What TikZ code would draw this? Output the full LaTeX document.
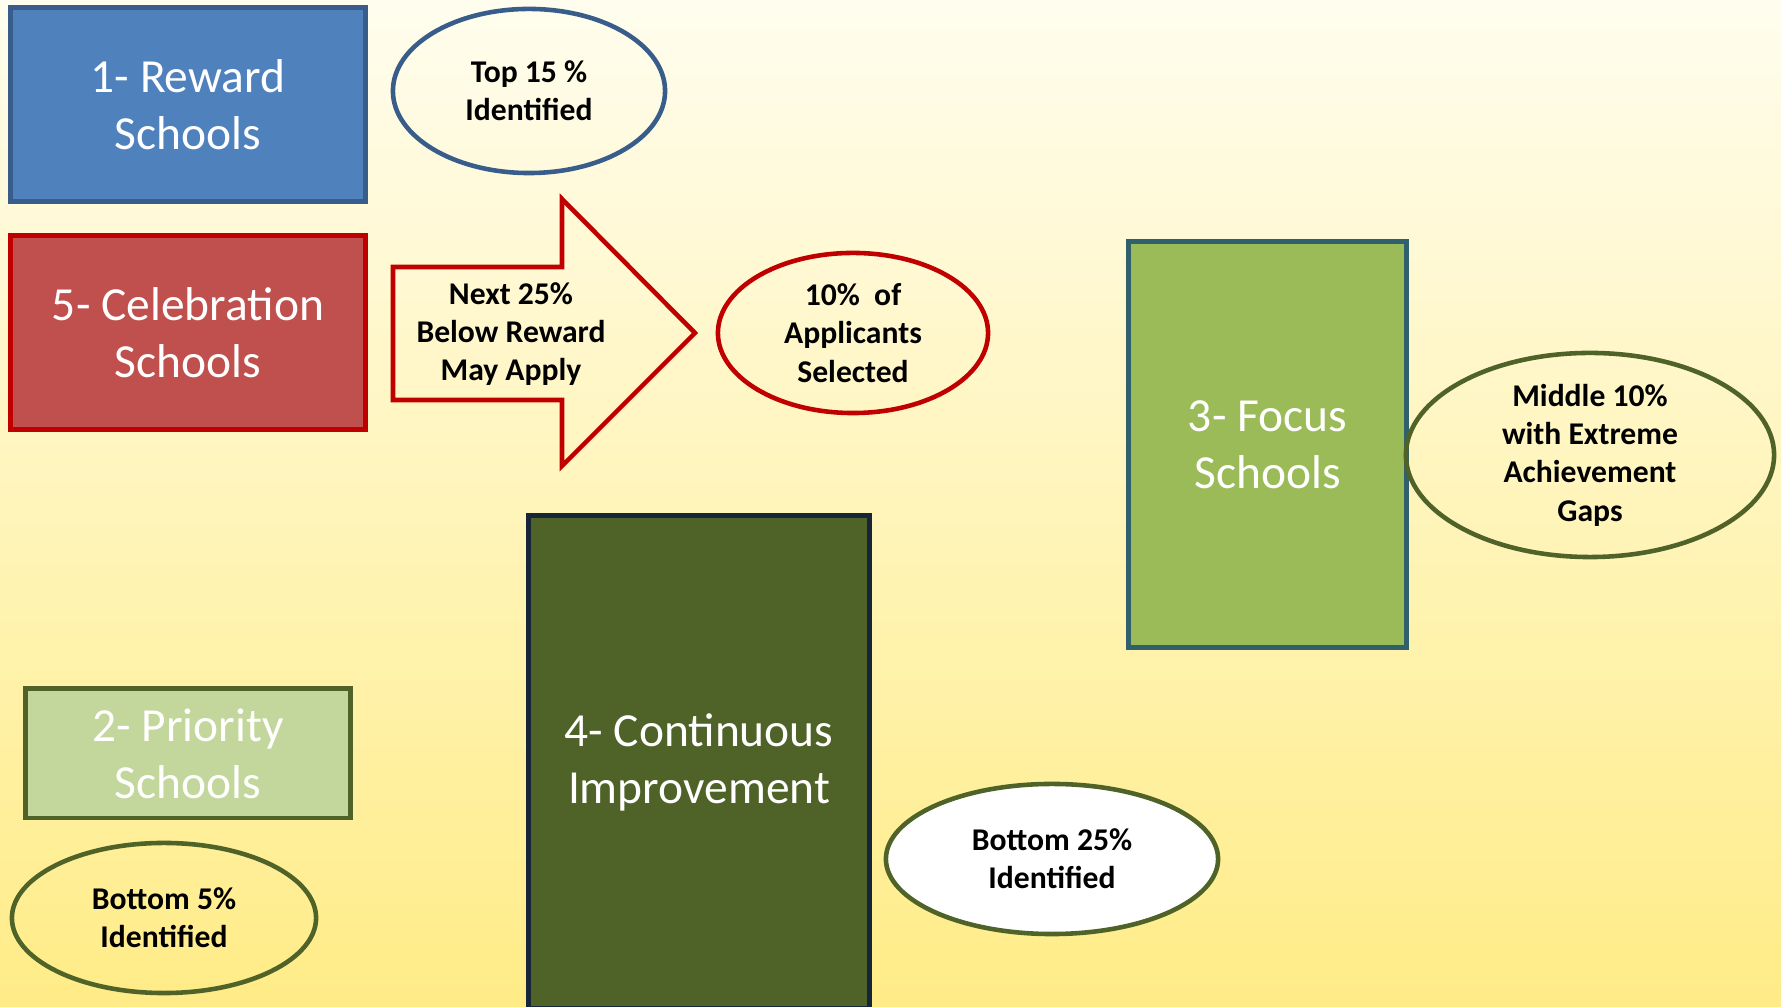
\documentclass[tikz,border=0pt]{standalone}
\usepackage{fontspec}
\setmainfont{Carlito}
\usetikzlibrary{shapes.geometric}

\definecolor{rewardBlue}{RGB}{79,129,189}
\definecolor{rewardEdge}{RGB}{56,93,138}
\definecolor{celebrationRed}{RGB}{192,80,77}
\definecolor{celebrationEdge}{RGB}{192,0,0}
\definecolor{focusGreen}{RGB}{155,187,89}
\definecolor{focusEdge}{RGB}{49,96,109}
\definecolor{oliveDark}{RGB}{79,98,40}
\definecolor{continuousEdge}{RGB}{23,37,56}
\definecolor{priorityGreen}{RGB}{195,214,155}
\definecolor{backTop}{RGB}{255,253,238}
\definecolor{backMiddle}{RGB}{255,243,175}
\definecolor{backBottom}{RGB}{255,236,135}

\tikzstyle{schoolBox} = [rectangle, draw, line width=1.4pt, text=white, inner sep=0pt, align=center, font=\fontsize{13.5}{16.2}\selectfont]
\tikzstyle{rateOval} = [ellipse, draw, line width=1.3pt, inner sep=0pt, align=center, font=\bfseries\fontsize{9}{10.9}\selectfont]
\tikzstyle{rateText} = [align=center, font=\bfseries\fontsize{9}{10.9}\selectfont]

\begin{document}
\begin{tikzpicture}[x=0.01cm, y=-0.01cm]
  \useasboundingbox (0,0) rectangle (1781,1007);
  \clip (0,0) rectangle (1781,1007);
  \shade [top color=backTop, middle color=backMiddle, bottom color=backBottom] (0,0) rectangle (1781,1007);

  % school categories
  \node [schoolBox, fill=rewardBlue, draw=rewardEdge, minimum width=3.54cm, minimum height=1.93cm] (reward) at (188,104.5) {1- Reward\\Schools};
  \node [schoolBox, fill=celebrationRed, draw=celebrationEdge, minimum width=3.54cm, minimum height=1.93cm] (celebration) at (188,332.5) {5- Celebration\\Schools};
  \node [schoolBox, fill=focusGreen, draw=focusEdge, minimum width=2.77cm, minimum height=4.05cm] (focus) at (1267.5,444.5) {3- Focus\\Schools};
  \node [schoolBox, fill=oliveDark, draw=continuousEdge, minimum width=3.40cm, minimum height=4.92cm] (continuous) at (699,762) {4- Continuous\\Improvement};
  \node [schoolBox, fill=priorityGreen, draw=oliveDark, minimum width=3.24cm, minimum height=1.29cm] (priority) at (188,753.5) {2- Priority\\Schools};

  % block arrow
  \draw [draw=celebrationEdge, line width=1.3pt] (393,267) -- (562,267) -- (562,199) -- (695,333) -- (562,466) -- (562,400) -- (393,400) -- cycle;
  \node [rateText] (nextApply) at (511,334) {Next 25\%\\Below Reward\\May Apply};

  % percentages
  \node [rateOval, draw=rewardEdge, minimum width=2.72cm, minimum height=1.64cm] (topShare) at (529,91) {Top 15 \%\\Identified};
  \node [rateOval, draw=celebrationEdge, minimum width=2.70cm, minimum height=1.60cm] (selected) at (853,333) {10\% \ of\\Applicants\\Selected};
  \node [rateOval, draw=oliveDark, minimum width=3.68cm, minimum height=2.04cm] (middleShare) at (1590,455) {Middle 10\%\\with Extreme\\Achievement\\Gaps};
  \node [rateOval, draw=oliveDark, minimum width=3.04cm, minimum height=1.50cm] (bottomFive) at (164,918) {Bottom 5\%\\Identified};
  \node [rateOval, draw=oliveDark, fill=white, minimum width=3.32cm, minimum height=1.50cm] (bottomQuarter) at (1052,859) {Bottom 25\%\\Identified};
\end{tikzpicture}
\end{document}
